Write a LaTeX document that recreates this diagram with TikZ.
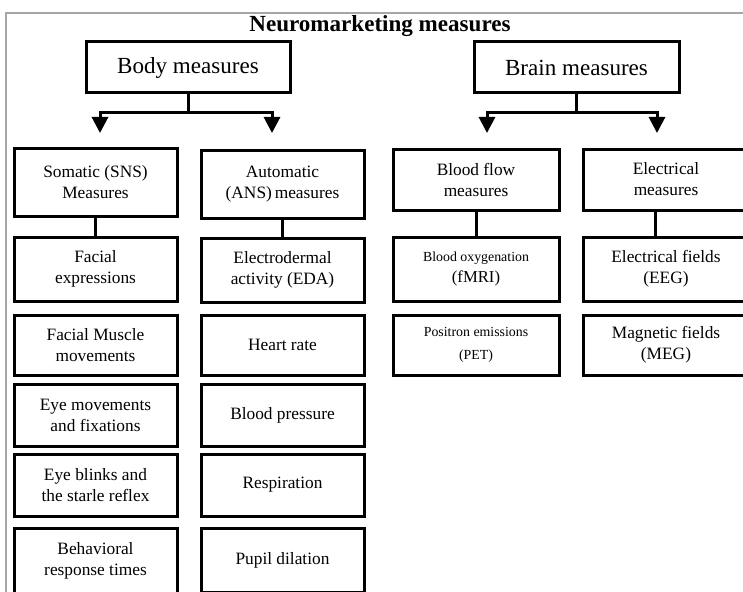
\documentclass[tikz,border=0pt]{standalone}
\usepackage{fontspec}
\setmainfont{Liberation Serif}
\usetikzlibrary{arrows.meta,calc}

\begin{document}
\begin{tikzpicture}[x=0.75pt,y=-0.75pt,
    box/.style={draw, line width=2.25pt, inner sep=0pt, align=center, font=\fontsize{13}{15.75}\selectfont},
    colbox/.style={box, minimum width=122.25pt},
    widebox/.style={box, minimum width=124.5pt},
    topbox/.style={box, minimum height=38.25pt, font=\fontsize{17.3}{20}\selectfont},
    smalltext/.style={font=\fontsize{10.4}{15.75}\selectfont},
    conn/.style={line width=2.25pt},
    arr/.style={line width=2.25pt, -{Triangle[width=12pt,length=12pt]}}]
    \clip (0,0) rectangle (743,592);
    % frame
    \draw[gray!70, line width=1pt] (743,13) -- (6,13) -- (6,592);
    \node[font=\fontsize{17.3}{20}\selectfont\bfseries] (title) at (380,26) {Neuromarketing measures};

    \node[topbox, minimum width=153pt] (body) at (188,67.5) {Body measures};
    \node[topbox, minimum width=153.75pt] (brain) at (576.5,67.5) {Brain measures};

    \coordinate (bodysplit) at (188,113);
    \coordinate (brainsplit) at (576.5,113);
    \coordinate (tipsns) at (100,133);
    \coordinate (tipans) at (272,133);
    \coordinate (tipflow) at (487,133);
    \coordinate (tipelec) at (657,133);
    \draw[conn] (body) -- (bodysplit);
    \draw[conn] (brain) -- (brainsplit);
    \draw[arr] (bodysplit) -| (tipsns);
    \draw[arr] (bodysplit) -| (tipans);
    \draw[arr] (brainsplit) -| (tipflow);
    \draw[arr] (brainsplit) -| (tipelec);

    % somatic
    \node[colbox, minimum height=51pt] (sns) at (95.5,182) {Somatic (SNS)\\Measures};
    \node[colbox, minimum height=48pt] (face) at (95.5,269) {Facial\\expressions};
    \node[colbox, minimum height=45pt] (muscle) at (95.5,345) {Facial Muscle\\movements};
    \node[colbox, minimum height=46.5pt] (eyemove) at (95.5,415) {Eye movements\\and fixations};
    \node[colbox, minimum height=46.5pt] (blink) at (95.5,485) {Eye blinks and\\the starle reflex};
    \node[colbox, minimum height=49.5pt] (react) at (95.5,561) {Behavioral\\response times};

    % autonomic
    \node[colbox, minimum height=51pt] (ans) at (282.5,184) {Automatic\\(ANS)\,measures};
    \node[colbox, minimum height=48pt] (eda) at (282.5,270) {Electrodermal\\activity (EDA)};
    \node[colbox, minimum height=45pt] (heart) at (282.5,345) {Heart rate};
    \node[colbox, minimum height=46.5pt] (pressure) at (282.5,415) {Blood pressure};
    \node[colbox, minimum height=46.5pt] (breath) at (282.5,485) {Respiration};
    \node[colbox, minimum height=48pt] (pupil) at (282.5,560) {Pupil dilation};

    % brain
    \node[widebox, minimum height=45.75pt] (flow) at (476,179.5) {Blood flow\\measures};
    \node[widebox, minimum height=48pt, smalltext] (fmri) at (476,269) {Blood oxygenation\\{\fontsize{12.5}{15.75}\selectfont (fMRI)}};
    \node[widebox, minimum height=45pt, smalltext] (pet) at (476,345) {Positron emissions\\[2pt](PET)};
    \node[widebox, minimum height=45.75pt] (elec) at (666,179.5) {Electrical\\measures};
    \node[widebox, minimum height=48pt] (eeg) at (666,269) {Electrical fields\\(EEG)};
    \node[widebox, minimum height=45pt] (meg) at (666,345) {Magnetic fields\\(MEG)};

    \draw[conn] (sns) -- (face);
    \draw[conn] (ans) -- (eda);
    \draw[conn] (flow) -- (fmri);
    \draw[conn] ($(elec.south)+(-11,0)$) -- ($(eeg.north)+(-11,0)$);
\end{tikzpicture}
\end{document}
